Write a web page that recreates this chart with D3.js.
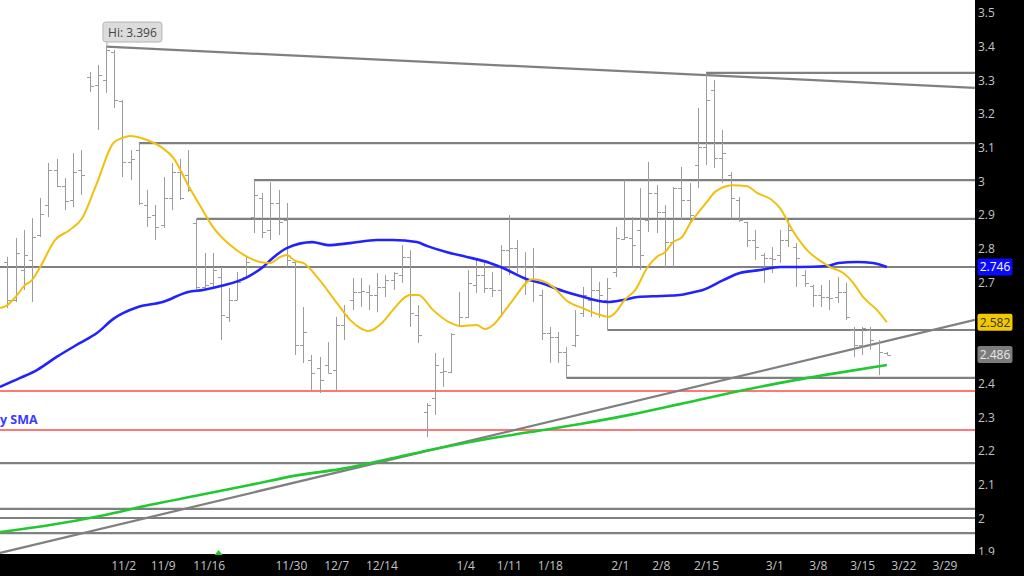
<!DOCTYPE html>
<html><head><meta charset="utf-8">
<script src="https://cdn.jsdelivr.net/npm/d3@7"></script>
<style>html,body{margin:0;padding:0;background:#fff;overflow:hidden}svg{display:block;font-family:"Open Sans",sans-serif}</style>
</head><body><svg id="c" width="1024" height="576"></svg>
<script>
// ---- data ----
const barOpen = [2.761,2.648,2.737,2.767,2.841,2.930,3.034,2.986,2.945,3.034,3.310,3.286,3.301,3.385,3.240,3.058,3.093,2.930,2.900,2.871,2.951,3.028,3.019,2.877,2.687,2.699,2.716,2.598,2.648,2.716,2.894,2.951,2.856,2.936,2.886,2.761,2.514,2.470,2.446,2.455,2.440,2.574,2.648,2.672,2.672,2.663,2.687,2.707,2.722,2.776,2.604,2.315,2.357,2.434,2.434,2.574,2.598,2.693,2.722,2.684,2.678,2.796,2.802,2.746,2.707,2.663,2.550,2.538,2.494,2.514,2.609,2.648,2.678,2.648,2.731,2.829,2.832,2.856,2.886,2.966,2.909,2.820,2.980,2.945,3.049,3.102,3.271,3.070,3.019,2.945,2.880,2.826,2.782,2.773,2.782,2.826,2.805,2.722,2.690,2.663,2.657,2.657,2.672,2.559,2.514,2.559,2.523,2.491];
const barHigh = [2.776,2.832,2.856,2.891,2.951,3.055,3.067,3.010,3.084,3.093,3.325,3.346,3.396,3.390,3.242,3.093,3.114,2.975,2.930,3.013,3.055,3.067,3.093,2.888,2.788,2.788,2.746,2.684,2.731,2.776,3.004,2.966,2.998,2.975,2.936,2.767,2.627,2.485,2.479,2.523,2.598,2.633,2.713,2.713,2.693,2.728,2.722,2.731,2.811,2.796,2.633,2.342,2.491,2.476,2.550,2.672,2.737,2.767,2.758,2.731,2.811,2.900,2.826,2.790,2.802,2.678,2.568,2.553,2.508,2.618,2.687,2.743,2.702,2.713,2.865,3.004,2.894,2.980,3.058,2.989,2.930,2.983,3.043,2.995,3.218,3.322,3.301,3.153,3.028,2.954,2.880,2.856,2.788,2.805,2.856,2.886,2.817,2.737,2.693,2.693,2.707,2.716,2.699,2.568,2.568,2.568,2.529,2.494];
const barLow = [2.624,2.642,2.678,2.642,2.835,2.894,2.983,2.915,2.924,2.960,3.265,3.153,3.263,3.218,3.013,3.004,2.930,2.865,2.826,2.862,2.915,2.945,2.969,2.678,2.678,2.687,2.529,2.583,2.648,2.716,2.847,2.832,2.826,2.841,2.746,2.485,2.461,2.381,2.372,2.431,2.381,2.529,2.618,2.627,2.618,2.612,2.657,2.678,2.699,2.568,2.520,2.241,2.307,2.390,2.431,2.568,2.595,2.669,2.669,2.657,2.598,2.722,2.728,2.663,2.642,2.529,2.461,2.461,2.416,2.508,2.598,2.598,2.595,2.559,2.716,2.826,2.746,2.737,2.850,2.847,2.746,2.746,2.886,2.877,2.980,3.049,3.040,2.995,2.891,2.880,2.805,2.767,2.699,2.728,2.758,2.805,2.687,2.687,2.627,2.627,2.618,2.639,2.589,2.479,2.485,2.500,2.425,2.485];
const barClose = [2.648,2.788,2.782,2.835,2.903,3.034,2.986,2.942,3.028,3.019,3.283,3.316,3.390,3.242,3.058,3.067,2.936,2.894,2.865,2.951,3.028,2.951,2.975,2.687,2.693,2.737,2.604,2.648,2.702,2.761,2.960,2.850,2.936,2.880,2.767,2.514,2.553,2.431,2.411,2.431,2.574,2.604,2.672,2.675,2.663,2.687,2.707,2.728,2.776,2.609,2.544,2.336,2.455,2.437,2.548,2.598,2.699,2.722,2.684,2.678,2.796,2.802,2.746,2.707,2.746,2.550,2.538,2.494,2.455,2.544,2.663,2.678,2.663,2.684,2.832,2.835,2.811,2.782,2.966,2.909,2.820,2.980,2.945,2.900,3.102,3.242,3.070,3.084,2.951,2.886,2.826,2.805,2.773,2.770,2.826,2.856,2.773,2.699,2.663,2.657,2.655,2.672,2.598,2.514,2.565,2.529,2.494,2.486];

const dateLabels = ["11/2","11/9","11/16","11/30","12/7","12/14","1/4","1/11","1/18","2/1","2/8","2/15","3/1","3/8","3/15","3/22","3/29"];
const datePos = [14.1,18.9,24.5,34.5,40.0,45.5,55.7,61.0,66.0,74.5,79.5,85.0,93.3,98.6,104.0,109.0,114.0];
// 2.5 and 2.6 are hidden behind the last-value badges in the original
const priceTicks = [1.9,2.0,2.1,2.2,2.3,2.4,2.7,2.8,2.9,3.0,3.1,3.2,3.3,3.4,3.5];

// short SMA (yellow)
const smaFastIdx = [-0.9,0,0.9,2.2,3.0,4.0,5.8,7.6,9.1,10.9,12.9,14.0,14.9,17.0,18.9,20.2,22.0,23.4,25.0,27.1,29.2,30.7,32.0,33.2,34.0,35.0,36.0,37.8,40.1,41.7,42.9,43.9,45.7,46.9,49.0,50.0,51.8,53.9,55.1,57.1,58.1,59.1,60.3,61.5,63.9,65.2,66.4,68.1,70.0,72.1,73.1,73.9,75.1,76.4,77.9,79.0,80.0,81.0,82.1,83.1,84.0,85.1,86.1,88.2,90.0,91.2,93.0,94.0,95.5,97.3,98.9,100.1,101.7,102.8,104.1,105.8,107.0];
const smaFastVal = [2.624,2.633,2.654,2.693,2.707,2.746,2.826,2.856,2.891,2.995,3.114,3.129,3.135,3.123,3.099,3.070,2.989,2.930,2.865,2.811,2.776,2.761,2.758,2.776,2.782,2.764,2.758,2.713,2.639,2.589,2.565,2.556,2.583,2.618,2.663,2.663,2.618,2.580,2.571,2.574,2.562,2.574,2.609,2.648,2.710,2.704,2.687,2.645,2.624,2.604,2.598,2.609,2.648,2.678,2.746,2.776,2.790,2.820,2.835,2.877,2.906,2.939,2.969,2.989,2.986,2.966,2.945,2.921,2.856,2.796,2.764,2.746,2.728,2.702,2.657,2.618,2.582];
// 50 day SMA (blue)
const sma50Idx = [-0.9,1.5,3.6,6.0,8.8,10.9,12.9,15.9,18.9,22.0,23.8,26.1,29.2,31.1,32.3,34.0,37.1,39.0,41.7,45.0,46.9,49.8,51.1,53.5,55.9,58.7,60.3,63.2,65.2,67.6,69.7,73.0,74.9,76.7,79.4,81.8,83.6,84.6,87.1,89.1,91.6,94.0,96.4,99.8,101.1,103.4,105.3,107.0];
const sma50Val = [2.390,2.416,2.440,2.479,2.520,2.550,2.592,2.627,2.642,2.672,2.678,2.690,2.716,2.746,2.773,2.802,2.820,2.811,2.817,2.826,2.826,2.820,2.808,2.790,2.776,2.758,2.743,2.710,2.696,2.675,2.660,2.642,2.648,2.657,2.660,2.663,2.672,2.678,2.707,2.728,2.737,2.746,2.746,2.749,2.758,2.761,2.758,2.746];
// 200 day SMA (green)
const sma200Idx = [-0.9,5.2,11.3,17.4,23.4,29.5,35.6,40.5,45.3,51.4,57.5,63.6,69.7,75.7,81.8,87.9,94.0,100.1,107.0];
const sma200Val = [1.959,1.980,2.007,2.040,2.069,2.099,2.129,2.146,2.170,2.203,2.232,2.256,2.280,2.307,2.339,2.372,2.402,2.428,2.455];

// horizontal support / resistance levels: start bar index and price
const levelStart = [85,16,30,23,-0.9,73,68,-0.9,-0.9,-0.9,-0.9];
const levelPrice = [3.322,3.114,3.004,2.889,2.746,2.559,2.417,2.164,2.028,2.001,1.956];
const redLevels = [2.378,2.262];
// sloped trend lines
const trendStartIdx = [12,-0.9];
const trendStartVal = [3.400,1.897];
const trendEndIdx = [117.7,117.7];
const trendEndVal = [3.278,2.589];

const hiIdx = 12, hiVal = 3.396, hiText = "Hi: 3.396";
const lastVals = [2.746, 2.582, 2.486];
const smaLabel = "y SMA";   // visible part of the 50-day SMA label at the left edge

// ---- layout ----
const W = 1024, H = 576, PW = 975, PH = 554;
const svg = d3.select("#c");
const x = d3.scaleLinear().domain([-0.89, 117.72]).range([0, PW]);
const y = d3.scaleLinear().domain([1.9, 3.5]).range([552, 13]);
const px = v => Math.round(x(v)) + 0.5;

svg.append("rect").attr("width", W).attr("height", H).attr("fill", "#fff");
const defs = svg.append("defs");
defs.append("clipPath").attr("id", "plot").append("rect").attr("width", PW).attr("height", PH);
defs.append("clipPath").attr("id", "yax").append("rect").attr("x", PW).attr("width", W - PW).attr("height", PH + 1);

const g = svg.append("g").attr("clip-path", "url(#plot)");

// levels
g.selectAll(".lvl").data(levelPrice).join("line")
  .attr("x1", (d, i) => x(levelStart[i])).attr("x2", PW)
  .attr("y1", d => y(d)).attr("y2", d => y(d))
  .attr("stroke", "#808080").attr("stroke-width", 2.2);
g.selectAll(".red").data(redLevels).join("line")
  .attr("x1", 0).attr("x2", PW).attr("y1", d => y(d)).attr("y2", d => y(d))
  .attr("stroke", "#ff4a4a").attr("stroke-width", 1.4);
g.selectAll(".trend").data(trendStartIdx).join("line")
  .attr("x1", d => x(d)).attr("y1", (d, i) => y(trendStartVal[i]))
  .attr("x2", (d, i) => x(trendEndIdx[i])).attr("y2", (d, i) => y(trendEndVal[i]))
  .attr("stroke", "#808080").attr("stroke-width", 2.2);

// OHLC bars
const bars = g.append("g").attr("stroke", "#9c9c9c").attr("stroke-width", 1);
barHigh.forEach((h, i) => {
  const cx = px(i);
  bars.append("line").attr("x1", cx).attr("x2", cx).attr("y1", y(h)).attr("y2", y(barLow[i]));
  bars.append("line").attr("x1", cx - 3.5).attr("x2", cx).attr("y1", Math.round(y(barOpen[i])) + 0.5).attr("y2", Math.round(y(barOpen[i])) + 0.5);
  bars.append("line").attr("x1", cx).attr("x2", cx + 3.5).attr("y1", Math.round(y(barClose[i])) + 0.5).attr("y2", Math.round(y(barClose[i])) + 0.5);
});

// moving averages
const line = d3.line().curve(d3.curveMonotoneX);
function sma(idx, val, color, w) {
  g.append("path").attr("d", line(idx.map((d, i) => [x(d), y(val[i])])))
    .attr("fill", "none").attr("stroke", color).attr("stroke-width", w).attr("stroke-linejoin", "round");
}
sma(sma200Idx, sma200Val, "#22c832", 2.6);
sma(sma50Idx, sma50Val, "#2222ff", 2.6);
sma(smaFastIdx, smaFastVal, "#f0c010", 2);

// SMA label at the left edge
svg.append("text").attr("x", 0).attr("y", 424)
  .attr("font-size", 12.5).attr("font-weight", "bold").attr("fill", "#3a3aff").text(smaLabel);

// Hi label
const hx = x(hiIdx), hy = y(hiVal);
const hg = svg.append("g");
hg.append("line").attr("x1", hx + 1).attr("x2", hx + 1).attr("y1", hy - 6).attr("y2", hy - 1).attr("stroke", "#aaa");
hg.append("rect").attr("x", hx - 3).attr("y", hy - 26).attr("width", 59).attr("height", 20).attr("rx", 3)
  .attr("fill", "#dcdcdc").attr("stroke", "#b4b4b4");
hg.append("text").attr("x", hx + 26.5).attr("y", hy - 11.5).attr("text-anchor", "middle")
  .attr("font-size", 12).attr("fill", "#454545").text(hiText);

// axes backgrounds
svg.append("rect").attr("x", PW).attr("y", 0).attr("width", W - PW).attr("height", H).attr("fill", "#000");
svg.append("rect").attr("x", 0).attr("y", PH).attr("width", W).attr("height", H - PH).attr("fill", "#000");

// right axis
const ya = svg.append("g").attr("clip-path", "url(#yax)").append("g").attr("transform", `translate(${PW},0)`)
  .call(d3.axisRight(y).tickValues(priceTicks).tickSize(0).tickPadding(3).tickFormat(d => String(+d.toFixed(1))));
ya.select(".domain").remove();
ya.selectAll("text").attr("font-size", 12).attr("fill", "#c4c4c4").attr("font-family", "Open Sans, sans-serif");

// bottom axis
const xa = svg.append("g").attr("transform", `translate(0,${PH})`)
  .call(d3.axisBottom(x).tickValues(datePos).tickSize(0).tickPadding(7).tickFormat((d, i) => dateLabels[i]));
xa.select(".domain").remove();
xa.selectAll("text").attr("font-size", 12).attr("fill", "#c4c4c4").attr("font-family", "Open Sans, sans-serif");

// green marker on time axis
const mx = x(25.7);
svg.append("path").attr("d", `M${mx - 4},${PH + 1}L${mx + 4},${PH + 1}L${mx},${PH - 4}Z`).attr("fill", "#22c832");

// last value badges
const badgeFill = ["#0a0aff", "#f2c800", "#7c7c7c"];
const badgeText = ["#ffffff", "#333333", "#e8e8e8"];
const bg = svg.append("g");
lastVals.forEach((v, i) => {
  bg.append("rect").attr("x", PW + 2.5).attr("y", y(v) - 8.5).attr("width", 35).attr("height", 17).attr("rx", 2).attr("fill", badgeFill[i]);
  bg.append("text").attr("x", PW + 20).attr("y", y(v) + 4.3).attr("text-anchor", "middle")
    .attr("font-size", 12).attr("fill", badgeText[i]).text(v.toFixed(3));
});
</script></body></html>
